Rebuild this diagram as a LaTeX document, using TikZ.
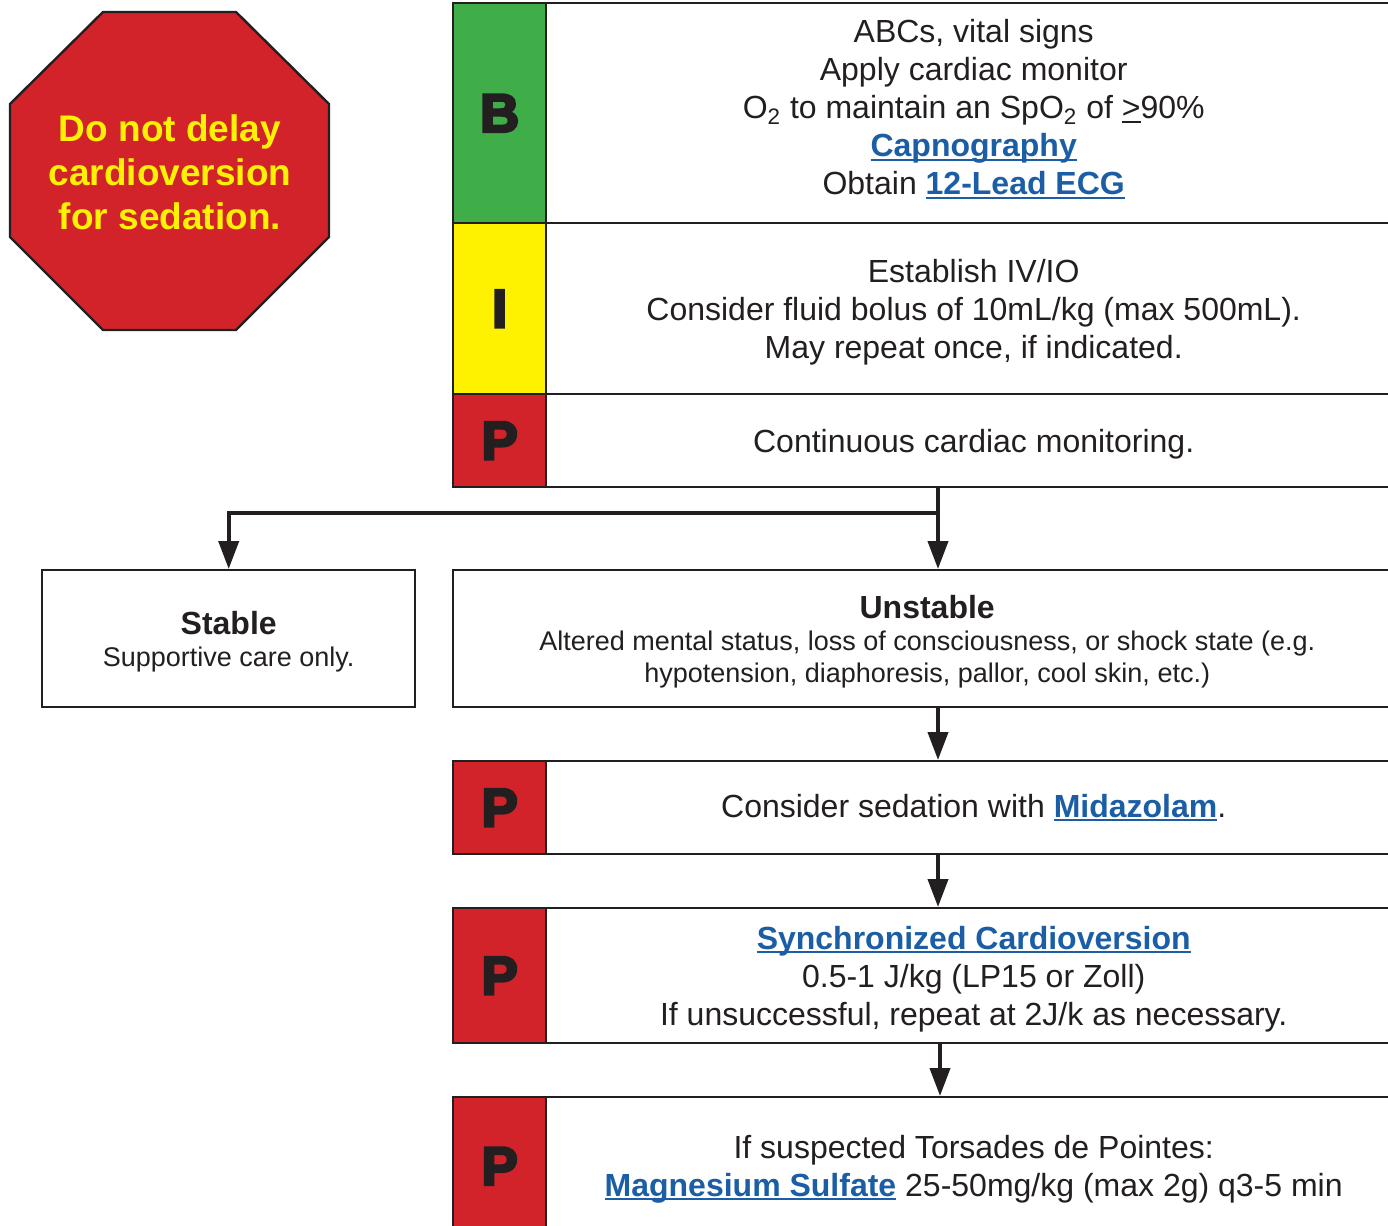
\documentclass[tikz,border=0pt]{standalone}
\usepackage{fontspec}
\setmainfont{Liberation Sans}
\newfontfamily\heavyfont[FakeBold=5]{Liberation Sans Bold}
\usetikzlibrary{arrows.meta}
\definecolor{bgreen}{HTML}{3FAE49}
\definecolor{byellow}{HTML}{FFF200}
\definecolor{bred}{HTML}{D2232A}
\definecolor{ink}{HTML}{231F20}
\definecolor{lblue}{HTML}{1B5EA6}
\newsavebox{\ulbox}
\newcommand{\myul}[1]{\sbox{\ulbox}{#1}\rlap{\rule[-1.8pt]{\wd\ulbox}{1pt}}\usebox{\ulbox}}
\newcommand{\lnk}[1]{{\color{lblue}\bfseries\myul{#1}}}
\begin{document}
\begin{tikzpicture}[x=0.5pt,y=-0.5pt,
  box/.style={draw=ink, line width=1.2pt, rectangle, inner sep=0pt, anchor=north west},
  letter/.style={box, minimum width=46.5pt, font=\heavyfont\fontsize{27}{30}\selectfont, text=ink},
  content/.style={box, fill=white, minimum width=427.5pt, align=center, text=ink, text depth=0pt, font=\fontsize{16}{19}\selectfont},
  arr/.style={draw=ink, line width=2pt, -{Triangle[length=14pt,width=10pt]}}]
\useasboundingbox (0,0) rectangle (1388,1226);
\clip (0,0) rectangle (1388,1226);

% stop sign
\filldraw[fill=bred, draw=ink, line width=1.2pt] (103,12) -- (236,12) -- (329,104) -- (329,237) -- (236,330) -- (103,330) -- (10,237) -- (10,104) -- cycle;
\node[text=byellow, font=\bfseries\fontsize{18.5}{22}\selectfont, align=center] (stop) at (170,172) {Do not delay\\cardioversion\\for sedation.};

% B row
\node[letter, fill=bgreen, minimum height=110pt] (Bl) at (452,2) {B};
\node[content, minimum height=110pt, text depth=5.8pt] (Bc) at (545,2) {ABCs, vital signs\\Apply cardiac monitor\\O\textsubscript{2} to maintain an SpO\textsubscript{2} of \myul{>}90\%\\\lnk{Capnography}\\Obtain \lnk{12-Lead ECG}};
% I row
\node[letter, fill=byellow, minimum height=85.5pt] (Il) at (452,222) {I};
\node[content, minimum height=85.5pt] (Ic) at (545,222) {Establish IV/IO\\Consider fluid bolus of 10mL/kg (max 500mL).\\May repeat once, if indicated.};
% P row
\node[letter, fill=bred, minimum height=46.5pt] (P1l) at (452,393) {P};
\node[content, minimum height=46.5pt] (P1c) at (545,393) {Continuous cardiac monitoring.};

% Stable / Unstable
\node[box, fill=white, minimum width=186.5pt, minimum height=68.5pt, align=center, text=ink, text depth=0pt, font=\fontsize{13.5}{16}\selectfont] (St) at (41,569)
  {{\bfseries\fontsize{16}{17}\selectfont Stable}\\[0pt]Supportive care only.};
\node[box, fill=white, minimum width=474pt, minimum height=68.5pt, align=center, text=ink, text depth=0pt, font=\fontsize{13.5}{16}\selectfont] (Un) at (452,569)
  {{\bfseries\fontsize{16}{17}\selectfont Unstable}\\[0pt]Altered mental status, loss of consciousness, or shock state (e.g.\\hypotension, diaphoresis, pallor, cool skin, etc.)};

% P2
\node[letter, fill=bred, minimum height=46.5pt] (P2l) at (452,760) {P};
\node[content, minimum height=46.5pt, text depth=2pt] (P2c) at (545,760) {Consider sedation with \lnk{Midazolam}.};
% P3
\node[letter, fill=bred, minimum height=67.5pt] (P3l) at (452,907) {P};
\node[content, minimum height=67.5pt] (P3c) at (545,907) {\lnk{Synchronized Cardioversion}\\0.5-1 J/kg (LP15 or Zoll)\\If unsuccessful, repeat at 2J/k as necessary.};
% P4
\node[letter, fill=bred, minimum height=69pt] (P4l) at (452,1096) {P};
\node[content, minimum height=69pt] (P4c) at (545,1096) {If suspected Torsades de Pointes:\\\lnk{Magnesium Sulfate} 25-50mg/kg (max 2g) q3-5 min};

% connectors
\coordinate (xA) at (938,0);
\coordinate (xB) at (940,0);
\coordinate (br) at (938,513);
\draw[arr] (P1c.south -| xA) -- (Un.north -| xA);
\draw[arr] (br) -| (St.north);
\draw[arr] (Un.south -| xA) -- (P2c.north -| xA);
\draw[arr] (P2c.south -| xA) -- (P3c.north -| xA);
\draw[arr] (P3c.south -| xB) -- (P4c.north -| xB);
\end{tikzpicture}
\end{document}
